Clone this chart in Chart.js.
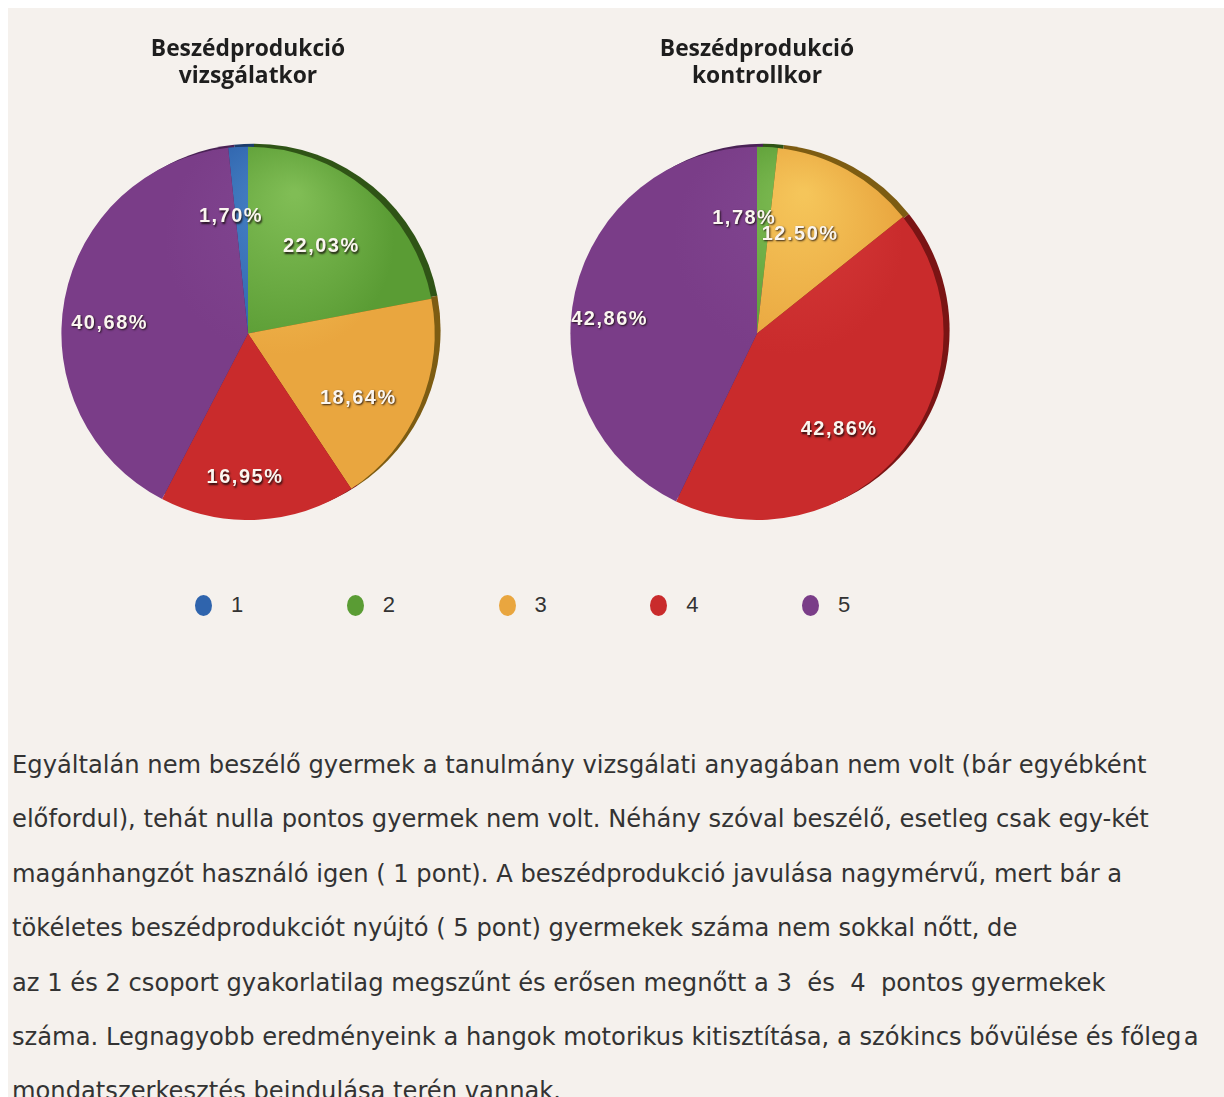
<!DOCTYPE html>
<html>
<head>
<meta charset="utf-8">
<script src="https://cdn.jsdelivr.net/npm/chart.js@4/dist/chart.umd.min.js"></script>
<style>
  html, body { margin: 0; padding: 0; background: #ffffff; }
  body { width: 1224px; height: 1097px; position: relative; overflow: hidden; }
  #panel { position: absolute; left: 8px; top: 8px; width: 1216px; height: 1089px; background: #f5f1ed; }
  .pie { position: absolute; top: 30px; width: 400px; height: 490px; }
  #leftWrap { left: 48px; }
  #rightWrap { left: 557px; }
  #legend { position: absolute; left: 183px; top: 590px; height: 30px; display: flex; }
  .lg-item { width: 151.75px; display: flex; align-items: center; height: 30px; }
  .lg-dot { width: 17px; height: 21px; border-radius: 50%; margin-left: 12px; margin-right: 19px; filter: blur(0.4px); }
  .lg-text { font-family: "Liberation Sans", Arial, sans-serif; font-size: 22px; color: #333; }
  #para { position: absolute; left: 12px; top: 738px; font-family: "DejaVu Sans", Verdana, sans-serif; font-size: 24.2px; line-height: 54.4px; color: #333; white-space: nowrap; }
</style>
</head>
<body>
<div id="panel"></div>
<div class="pie" id="leftWrap"><canvas id="leftChart" width="400" height="490"></canvas></div>
<div class="pie" id="rightWrap"><canvas id="rightChart" width="400" height="490"></canvas></div>
<div id="legend"></div>
<div id="para">
Egyáltalán nem beszélő gyermek a tanulmány vizsgálati anyagában nem volt (bár egyébként<br>
előfordul), tehát nulla pontos gyermek nem volt. Néhány szóval beszélő, esetleg csak egy-két<br>
magánhangzót használó igen ( 1 pont). A beszédprodukció javulása nagymérvű, mert bár a<br>
tökéletes beszédprodukciót nyújtó ( 5 pont) gyermekek száma nem sokkal nőtt, de<br>
az 1 és 2 csoport gyakorlatilag megszűnt és erősen megnőtt a 3&nbsp; és&nbsp; 4&nbsp; pontos gyermekek<br>
száma. Legnagyobb eredményeink a hangok motorikus kitisztítása, a szókincs bővülése és főleg&#8202;a<br>
mondatszerkesztés beindulása terén vannak.
</div>
<script>
// ---- data ----
const categories = ['1', '2', '3', '4', '5'];
const leftValues = [1.70, 22.03, 18.64, 16.95, 40.68];
const rightValues = [0, 1.78, 12.50, 42.86, 42.86];
const leftPercentLabels = ['1,70%', '22,03%', '18,64%', '16,95%', '40,68%'];
const rightPercentLabels = ['', '1,78%', '12.50%', '42,86%', '42,86%'];
const leftTitle = ['Beszédprodukció', 'vizsgálatkor'];
const rightTitle = ['Beszédprodukció', 'kontrollkor'];

// ---- styles ----
const baseColors = ['#2f64ad', '#5a9c34', '#e9a63f', '#c92b2c', '#7a3d88'];
const lightColors = ['#4a86c9', '#80bd55', '#f5c55a', '#d63a3a', '#814691'];
const rimColors = ['#1c3d6b', '#2f5416', '#7d5c12', '#7a1414', '#4a2256'];

function sliceFill(ctx) {
  const chart = ctx.chart;
  const area = chart.chartArea;
  const i = ctx.dataIndex;
  if (!area) return baseColors[i];
  const cx = (area.left + area.right) / 2;
  const cy = (area.top + area.bottom) / 2;
  const r = Math.min(area.right - area.left, area.bottom - area.top) / 2;
  const g = chart.ctx.createRadialGradient(cx + r * 0.25, cy - r * 0.75, 4, cx + r * 0.1, cy - r * 0.3, r * 1.1);
  g.addColorStop(0, lightColors[i]);
  g.addColorStop(0.55, baseColors[i]);
  g.addColorStop(1, baseColors[i]);
  return g;
}

const rimPlugin = {
  id: 'rim',
  beforeDatasetsDraw(chart) {
    const meta = chart.getDatasetMeta(0);
    const c = chart.ctx;
    c.save();
    meta.data.forEach((arc, i) => {
      const p = arc.getProps(['x', 'y', 'startAngle', 'endAngle', 'outerRadius'], true);
      if (p.endAngle - p.startAngle <= 0) return;
      c.beginPath();
      c.moveTo(p.x + 6, p.y - 3);
      c.arc(p.x + 6, p.y - 3, p.outerRadius, p.startAngle, p.endAngle);
      c.closePath();
      c.fillStyle = rimColors[i];
      c.fill();
    });
    c.restore();
  }
};

const labelPlugin = {
  id: 'pctLabels',
  afterDatasetsDraw(chart, args, opts) {
    const meta = chart.getDatasetMeta(0);
    const c = chart.ctx;
    c.save();
    c.font = 'bold 20px "Liberation Sans", Arial, sans-serif';
    if ('letterSpacing' in c) c.letterSpacing = '1.5px';
    c.textAlign = 'center';
    c.textBaseline = 'middle';
    meta.data.forEach((arc, i) => {
      const text = opts.texts[i];
      if (!text) return;
      const p = arc.getProps(['x', 'y', 'startAngle', 'endAngle', 'outerRadius'], true);
      const mid = (p.startAngle + p.endAngle) / 2;
      const r = p.outerRadius * 0.7;
      const x = p.x + opts.dx + Math.cos(mid) * r;
      const y = p.y + opts.dy + Math.sin(mid) * r;
      c.shadowColor = 'rgba(20,10,10,0.85)';
      c.shadowOffsetX = 1;
      c.shadowOffsetY = 1.5;
      c.shadowBlur = 2;
      c.fillStyle = '#fbf6f0';
      c.fillText(text, x, y);
    });
    c.restore();
  }
};

function makePie(id, values, texts, title, dx, dy, padLeft) {
  return new Chart(document.getElementById(id), {
    type: 'pie',
    data: {
      labels: categories,
      datasets: [{
        data: values,
        backgroundColor: sliceFill,
        borderWidth: 0
      }]
    },
    options: {
      responsive: false,
      animation: false,
      rotation: -values[0] / 100 * 360,
      layout: { padding: 0 },
      events: [],
      plugins: {
        legend: { display: false },
        tooltip: { enabled: false },
        title: {
          display: true,
          text: title,
          color: '#1e1e1e',
          font: { family: '"Open Sans", "Noto Sans", sans-serif', size: 22.8, weight: 'bold', lineHeight: 1.18 },
          padding: { top: 6.5, bottom: 56.5 }
        },
        pctLabels: { texts: texts, dx: dx, dy: dy }
      }
    },
    plugins: [rimPlugin, labelPlugin]
  });
}

const leftChart = makePie('leftChart', leftValues, leftPercentLabels, leftTitle, -10, 14);
const rightChart = makePie('rightChart', rightValues, rightPercentLabels, rightTitle, -20, 15);

// ---- legend built from the library's legend items ----
let items = null;
try {
  const gen = Chart.overrides.pie.plugins.legend.labels.generateLabels;
  items = gen(leftChart);
} catch (e) { items = null; }
if (!items || !items.length) {
  items = categories.map((t, i) => ({ text: t, index: i }));
}
const legendEl = document.getElementById('legend');
items.forEach((it, i) => {
  const idx = it.index !== undefined ? it.index : i;
  const d = document.createElement('div');
  d.className = 'lg-item';
  const dot = document.createElement('span');
  dot.className = 'lg-dot';
  dot.style.background = baseColors[idx];
  const t = document.createElement('span');
  t.className = 'lg-text';
  t.textContent = it.text;
  d.appendChild(dot);
  d.appendChild(t);
  legendEl.appendChild(d);
});
</script>
</body>
</html>
